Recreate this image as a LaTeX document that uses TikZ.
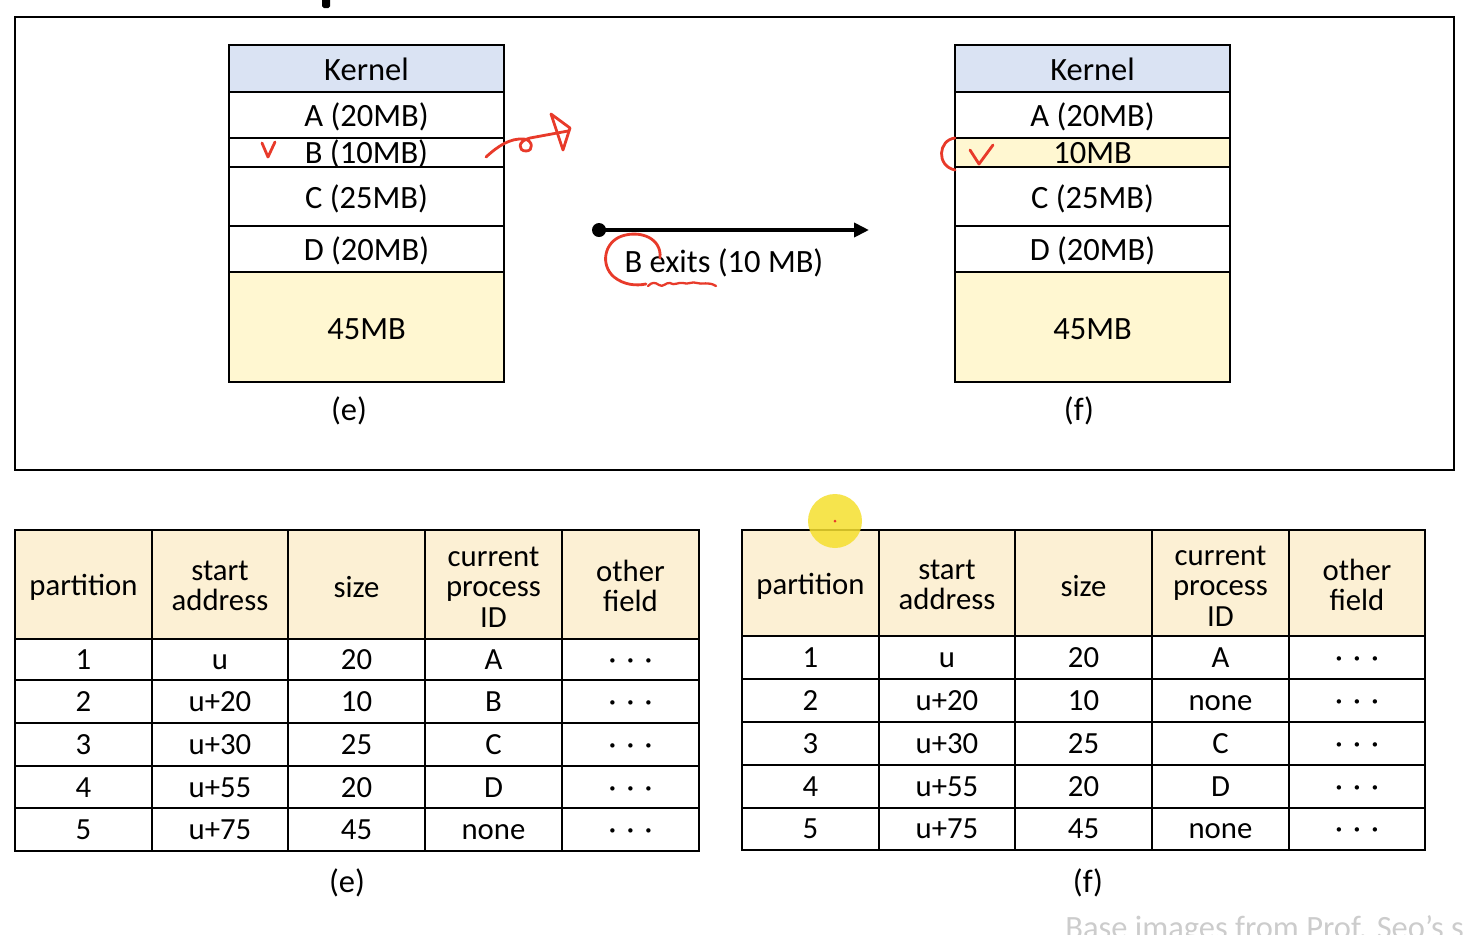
\documentclass[tikz,border=0pt]{standalone}
\usepackage{fontspec}
\setmainfont{Carlito}
\usetikzlibrary{arrows.meta}
\definecolor{kern}{HTML}{DAE3F3}
\definecolor{freey}{HTML}{FFF7D1}
\definecolor{hdr}{HTML}{FCF0D4}
\definecolor{pen}{HTML}{E83A2A}
\definecolor{hl}{HTML}{F5DF2E}
\definecolor{wm}{HTML}{CCCCCC}
\begin{document}
\begin{tikzpicture}[x=0.02cm,y=-0.02cm,
  frame/.style={draw=black,line width=1.1pt},
  mem/.style={draw=black,line width=1.1pt},
  tbl/.style={draw=black,line width=1.1pt},
  mt/.style={font=\fontsize{18.5}{22}\selectfont,inner sep=0pt,anchor=base},
  tt/.style={font=\fontsize{17.5}{17.4}\selectfont,inner sep=0pt,anchor=base},
  th/.style={font=\fontsize{17.5}{17.4}\selectfont,inner sep=0pt,align=center},
  ink/.style={draw=pen,line width=1.6pt,line cap=round,line join=round}]
\useasboundingbox (0,0) rectangle (1470,934);
\clip (0,0) rectangle (1470,934);

% stray mark at the top
\fill[black, rounded corners=1pt] (322,-3) rectangle (330,8);

% top frame
\draw[frame] (15,17) rectangle (1454,470);

% ---------- left memory map (e) ----------
\filldraw[mem,fill=kern] (229,45) rectangle (504,92);
\draw[mem] (229,92) rectangle (504,138);
\draw[mem] (229,138) rectangle (504,167);
\draw[mem] (229,167) rectangle (504,226);
\draw[mem] (229,226) rectangle (504,272);
\filldraw[mem,fill=freey] (229,272) rectangle (504,382);
\node[mt] (ek) at (366.5,80) {Kernel};
\node[mt] (ea) at (366.5,126) {A (20MB)};
\node[mt] (eb) at (366.5,163) {B (10MB)};
\node[mt] (ec) at (366.5,208) {C (25MB)};
\node[mt] (ed) at (366.5,260) {D (20MB)};
\node[mt] (ef) at (366.5,339) {45MB};
\node[mt] (elab) at (349,420) {(e)};

% ---------- right memory map (f) ----------
\filldraw[mem,fill=kern] (955,45) rectangle (1230,92);
\draw[mem] (955,92) rectangle (1230,138);
\filldraw[mem,fill=freey] (955,138) rectangle (1230,167);
\draw[mem] (955,167) rectangle (1230,226);
\draw[mem] (955,226) rectangle (1230,272);
\filldraw[mem,fill=freey] (955,272) rectangle (1230,382);
\node[mt] (fk) at (1092.5,80) {Kernel};
\node[mt] (fa) at (1092.5,126) {A (20MB)};
\node[mt] (fb) at (1092.5,163) {10MB};
\node[mt] (fc) at (1092.5,208) {C (25MB)};
\node[mt] (fd) at (1092.5,260) {D (20MB)};
\node[mt] (ff) at (1092.5,339) {45MB};
\node[mt] (flab) at (1079,420) {(f)};

% ---------- transition arrow ----------
\coordinate (arrs) at (599,230);
\coordinate (arre) at (869,230);
\draw[line width=2.6pt,-{Triangle[length=0.3cm,width=0.28cm]}] (arrs) -- (arre);
\fill (arrs) circle (0.14cm);
\node[mt] (exits) at (724,272) {B exits (10 MB)};

% ---------- left table (e) ----------
\fill[hdr] (15,530) rectangle (699,639);
\draw[tbl] (15,530) rectangle (699,851);
\foreach \yy in {639,680,723,766,808} \draw[tbl] (15,\yy) -- (699,\yy);
\foreach \xx in {152,288,425,562} \draw[tbl] (\xx,530) -- (\xx,851);
\node[th] (eh1) at (83.5,587) {partition};
\node[th] (eh2) at (220,586) {start\\address};
\node[th] (eh3) at (356.5,587) {size};
\node[th] (eh4) at (493.5,587) {current\\process\\ID};
\node[th] (eh5) at (630.5,586) {other\\field};
\foreach \r/\yy/\a/\b/\c in {1/669/u/20/A,2/711/u+20/10/B,3/754/u+30/25/C,4/797/u+55/20/D,5/839/u+75/45/none}{
  \node[tt] (e\r c1) at (83.5,\yy) {\r};
  \node[tt] (e\r c2) at (220,\yy) {\a};
  \node[tt] (e\r c3) at (356.5,\yy) {\b};
  \node[tt] (e\r c4) at (493.5,\yy) {\c};
  \node[tt] (e\r c5) at (630.5,\yy) {·\,\,·\,\,·};
}
\node[mt] (elab2) at (347,892) {(e)};

% ---------- right table (f) ----------
\fill[hdr] (742,530) rectangle (1425,636);
\draw[tbl] (742,530) rectangle (1425,850);
\foreach \yy in {636,679,722,765,808} \draw[tbl] (742,\yy) -- (1425,\yy);
\foreach \xx in {879,1015,1152,1289} \draw[tbl] (\xx,530) -- (\xx,850);
\node[th] (fh1) at (810.5,586) {partition};
\node[th] (fh2) at (947,585) {start\\address};
\node[th] (fh3) at (1083.5,586) {size};
\node[th] (fh4) at (1220.5,586) {current\\process\\ID};
\node[th] (fh5) at (1357,585) {other\\field};
\foreach \r/\yy/\a/\b/\c in {1/667/u/20/A,2/710/u+20/10/none,3/753/u+30/25/C,4/796/u+55/20/D,5/838/u+75/45/none}{
  \node[tt] (f\r c1) at (810.5,\yy) {\r};
  \node[tt] (f\r c2) at (947,\yy) {\a};
  \node[tt] (f\r c3) at (1083.5,\yy) {\b};
  \node[tt] (f\r c4) at (1220.5,\yy) {\c};
  \node[tt] (f\r c5) at (1357,\yy) {·\,\,·\,\,·};
}
\node[mt] (flab2) at (1088,892) {(f)};

% ---------- pointer highlight ----------
\fill[hl,opacity=0.85] (835,521) circle (0.54cm);
\fill[pen] (835,521) circle (0.03cm);

% ---------- watermark ----------
\node[mt,text=wm,anchor=base west] (wmark) at (1065,938) {Base images from Prof. Seo’s s};

% ---------- red pen annotations ----------
\draw[ink] (262,143) -- (268,157) -- (275,142);
\draw[ink] (486,157) .. controls (498,146) and (510,138) .. (524,139)
  .. controls (533,140) and (534,151) .. (526,151)
  .. controls (518,151) and (517,141) .. (530,138) -- (568,131);
\draw[ink] (551,114) -- (570,128) -- (563,150) -- cycle;
\draw[ink] (955,138) .. controls (938,140) and (936,166) .. (955,170);
\draw[ink] (970,150) -- (979,164) -- (993,145);
\draw[ink] (660,258) .. controls (662,238) and (640,230) .. (622,236)
  .. controls (604,242) and (600,265) .. (614,277)
  .. controls (624,285) and (636,286) .. (646,284);
\draw[ink,line width=1.3pt] (648,286) .. controls (652,282) and (655,282) .. (659,285)
  .. controls (663,288) and (666,282) .. (670,283)
  .. controls (674,286) and (678,282) .. (683,283)
  .. controls (688,285) and (692,281) .. (697,283)
  .. controls (702,285) and (708,281) .. (716,286);
\end{tikzpicture}
\end{document}
